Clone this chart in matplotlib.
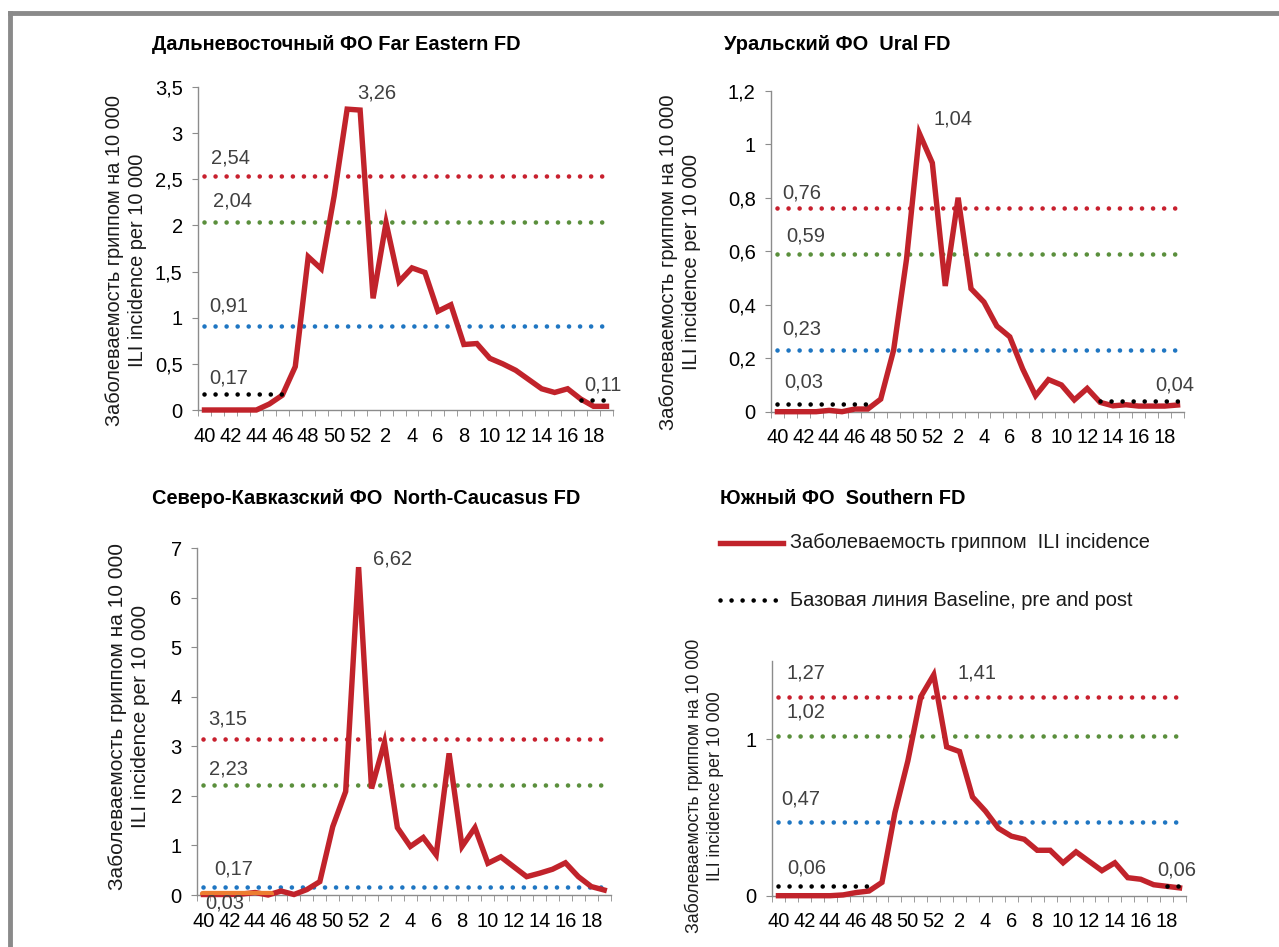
import numpy as np
import matplotlib
matplotlib.use('Agg')
import matplotlib.pyplot as plt
from matplotlib.lines import Line2D

plt.rcParams['font.family'] = ['Liberation Sans', 'DejaVu Sans']

# weeks 40..52 then 1..19
weeks = list(range(40, 53)) + list(range(1, 20))
week_labels = [str(w) if i % 2 == 0 else '' for i, w in enumerate(weeks)]

far_east = [0, 0, 0, 0, 0, 0.065, 0.16, 0.47, 1.66, 1.53, 2.32, 3.26, 3.25, 1.21, 2.03, 1.39,
            1.54, 1.49, 1.07, 1.14, 0.71, 0.72, 0.56, 0.50, 0.43, 0.33, 0.23, 0.19, 0.23, 0.12,
            0.04, 0.04]
ural = [0, 0, 0, 0, 0.005, 0, 0.01, 0.01, 0.047, 0.23, 0.57, 1.04, 0.93, 0.47, 0.80, 0.46,
        0.41, 0.32, 0.28, 0.16, 0.06, 0.12, 0.10, 0.044, 0.087, 0.035, 0.022, 0.026, 0.021,
        0.021, 0.021, 0.025]
n_caucasus = [0.01, 0.01, 0.01, 0.02, 0.05, 0, 0.08, 0.01, 0.11, 0.27, 1.38, 2.09, 6.62, 2.15,
              3.08, 1.36, 0.98, 1.16, 0.81, 2.86, 0.98, 1.36, 0.64, 0.77, 0.57, 0.37, 0.44,
              0.52, 0.65, 0.37, 0.17, 0.10]
southern = [0, 0, 0, 0, 0, 0.005, 0.02, 0.03, 0.085, 0.53, 0.86, 1.27, 1.41, 0.95, 0.92, 0.63,
            0.54, 0.43, 0.38, 0.36, 0.29, 0.29, 0.21, 0.28, 0.22, 0.16, 0.21, 0.115, 0.105,
            0.07, 0.06, 0.05]

# thresholds: red, green, blue
far_east_thr = [2.54, 2.04, 0.91]
ural_thr = [0.76, 0.59, 0.23]
n_caucasus_thr = [3.15, 2.23, 0.17]
southern_thr = [1.27, 1.02, 0.47]

# baselines: (value, first idx, last idx)
far_east_base = [(0.17, 0, 6), (0.11, 29, 31)]
ural_base = [(0.03, 0, 7), (0.04, 25, 31)]
southern_base = [(0.06, 0, 7), (0.06, 30, 31)]
n_caucasus_base = [(0.03, 0, 5.2)]

RED = '#C1232B'
THR_COLORS = ['#C8202E', '#5A8F3C', '#1F76C2']
GREY_TXT = '#404040'
DOTS = (0, (0.01, 2.4))
FS = 14.5

fig = plt.figure(figsize=(12.79, 9.47), dpi=100)

# grey frame at top and left
fig.add_artist(Line2D([10 / 1279, 1], [1 - 13 / 947, 1 - 13 / 947], color='#8a8a8a', lw=3.5,
                      transform=fig.transFigure))
fig.add_artist(Line2D([10 / 1279, 10 / 1279], [0, 1 - 13 / 947], color='#8a8a8a', lw=3.5,
                      transform=fig.transFigure))


def fmt(v):
    return ('%g' % v).replace('.', ',')


def panel(rect, data, thr, bases, ylim, yticks, title, title_xy, ylab_xy, ylab_fs, labels,
          orange_base=False):
    ax = fig.add_axes(rect)
    x = np.arange(len(data))
    for v, c in zip(thr, THR_COLORS):
        ax.plot([0, len(data) - 1], [v, v], color=c, lw=3.3, linestyle=DOTS,
                dash_capstyle='round', zorder=2)
    for v, i0, i1 in bases:
        if orange_base:
            ax.plot([i0, i1], [v, v], color='#ED7D31', lw=4.5, solid_capstyle='round', zorder=4)
        else:
            ax.plot([i0, i1], [v, v], color='black', lw=3.3, linestyle=DOTS,
                    dash_capstyle='round', zorder=4)
    ax.plot(x, data, color=RED, lw=3.9, solid_joinstyle='miter', zorder=3,
            clip_on=False)
    ax.set_xlim(-0.5, len(data) - 0.5)
    ax.set_ylim(*ylim)
    ax.set_yticks(yticks)
    ax.set_yticklabels([fmt(t) for t in yticks])
    ax.set_xticks(x)
    ax.set_xticklabels(week_labels)
    ax.set_xticks(np.arange(-0.5, len(data)), minor=True)
    ax.tick_params(axis='x', which='major', length=0, labelsize=FS, pad=12)
    ax.tick_params(axis='x', which='minor', length=4, color='#8c8c8c')
    ax.tick_params(axis='y', length=4, color='#8c8c8c', labelsize=FS, pad=7)
    for s in ['top', 'right']:
        ax.spines[s].set_visible(False)
    for s in ['left', 'bottom']:
        ax.spines[s].set_color('#8c8c8c')
        ax.spines[s].set_linewidth(1)
    for txt, tx, ty in labels:
        ax.text(tx, ty, txt, fontsize=FS, color=GREY_TXT, ha='left', va='center', zorder=5)
    fig.text(title_xy[0] / 1279, 1 - title_xy[1] / 947, title, fontsize=14.4,
             fontweight='bold', ha='left', va='center')
    fig.text(ylab_xy[0] / 1279, 1 - ylab_xy[1] / 947,
             'Заболеваемость гриппом на 10 000\nILI incidence per 10 000',
             rotation=90, fontsize=ylab_fs, ha='center', va='center', linespacing=1.33,
             color='#1a1a1a')
    return ax


panel([198 / 1279, 1 - 410 / 947, 415 / 1279, 323 / 947], far_east, far_east_thr,
      far_east_base, (0, 3.5), [0, 0.5, 1, 1.5, 2, 2.5, 3, 3.5],
      'Дальневосточный ФО Far Eastern FD', (152, 45), (126, 260), 14.4,
      [('2,54', 0.5, 2.73), ('2,04', 0.65, 2.26), ('0,91', 0.4, 1.13), ('0,17', 0.4, 0.35),
       ('3,26', 11.8, 3.43), ('0,11', 29.3, 0.27)])

panel([771 / 1279, 1 - 411.7 / 947, 413 / 1279, 321 / 947], ural, ural_thr,
      ural_base, (0, 1.2), [0, 0.2, 0.4, 0.6, 0.8, 1, 1.2],
      'Уральский ФО  Ural FD', (724, 45), (680, 262), 14.6,
      [('0,76', 0.4, 0.819), ('0,59', 0.7, 0.657), ('0,23', 0.4, 0.309), ('0,03', 0.55, 0.111),
       ('1,04', 12.1, 1.094), ('0,04', 29.3, 0.10)])

panel([197 / 1279, 1 - 895 / 947, 413.7 / 1279, 346.7 / 947], n_caucasus, n_caucasus_thr,
      n_caucasus_base, (0, 7), [0, 1, 2, 3, 4, 5, 6, 7],
      'Северо-Кавказский ФО  North-Caucasus FD', (152, 498), (129, 716), 15,
      [('3,15', 0.4, 3.56), ('2,23', 0.4, 2.55), ('0,17', 0.85, 0.52), ('0,03', 0.1, -0.16),
       ('6,62', 13.1, 6.79)], orange_base=True)

panel([772 / 1279, 1 - 895.7 / 947, 414 / 1279, 235 / 947], southern, southern_thr,
      southern_base, (0, 1.5), [0, 1],
      'Южный ФО  Southern FD', (720, 498), (704, 786), 12.8,
      [('1,27', 0.65, 1.42), ('1,02', 0.65, 1.17), ('0,47', 0.25, 0.62), ('0,06', 0.65, 0.177),
       ('1,41', 13.8, 1.42), ('0,06', 29.3, 0.165)])

# legend
fig.add_artist(Line2D([720 / 1279, 783 / 1279], [1 - 543 / 947] * 2, color=RED, lw=3.9,
                      transform=fig.transFigure))
fig.text(790 / 1279, 1 - 543 / 947, 'Заболеваемость гриппом  ILI incidence', fontsize=14.4,
         va='center', ha='left', color='#1a1a1a')
fig.add_artist(Line2D([720 / 1279, 778 / 1279], [1 - 600 / 947] * 2, color='black', lw=3.3,
                      linestyle=DOTS, dash_capstyle='round', transform=fig.transFigure))
fig.text(790 / 1279, 1 - 600 / 947, 'Базовая линия Baseline, pre and post', fontsize=14.4,
         va='center', ha='left', color='#1a1a1a')

fig.savefig('out.png', dpi=100)
